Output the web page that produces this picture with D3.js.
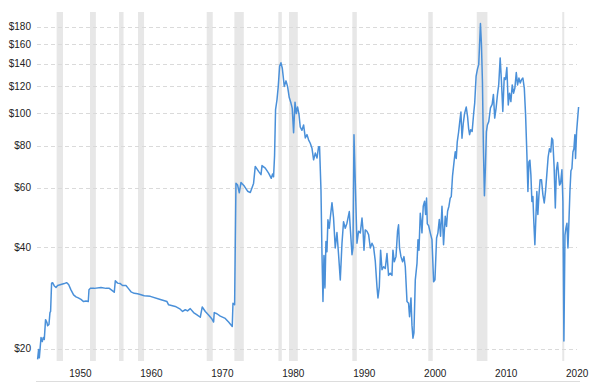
<!DOCTYPE html>
<html>
<head>
<meta charset="utf-8">
<script src="https://cdnjs.cloudflare.com/ajax/libs/d3/7.8.5/d3.min.js"></script>
<style>
  body { margin: 0; background: #fff; }
  svg { display: block; font-family: "DejaVu Sans", Verdana, sans-serif; }
  .band { fill: #e7e7e7; }
  .gridLine { stroke: #dadada; stroke-width: 1; stroke-dasharray: 4,3; }
  .baseLine { stroke: #dddddd; stroke-width: 1; }
  .priceLine { fill: none; stroke: #4a90d9; stroke-width: 1.5; stroke-linejoin: round; }
  .axis text { font-size: 10px; fill: #222; }
  .axis path, .axis line { display: none; }
</style>
</head>
<body>
<script>
var w = 602;
var h = 383;

// monthly-ish samples (decimal year, price in $)
var years = [
  1946.17, 1946.31, 1946.41, 1946.65, 1946.83, 1946.97, 1947.11, 1947.29, 1947.49, 1947.58,
  1947.77, 1947.91, 1948.0, 1948.14, 1948.28, 1948.52, 1948.76, 1948.99, 1949.46, 1949.93,
  1950.25, 1950.54, 1950.87, 1951.24, 1951.58, 1951.9, 1952.28, 1952.65, 1952.99, 1953.31,
  1953.41, 1953.59, 1954.16, 1955.1, 1955.81, 1956.27, 1956.65, 1956.97, 1957.12, 1957.44,
  1957.82, 1958.14, 1958.62, 1958.95, 1959.33, 1959.79, 1960.26, 1960.74, 1961.2, 1962.05,
  1963.46, 1964.4, 1964.63, 1965.57, 1966.27, 1966.6, 1966.98, 1967.3, 1967.68, 1968.15,
  1968.63, 1969.09, 1969.37, 1969.8, 1970.26, 1970.74, 1970.97, 1971.06, 1971.44, 1971.91,
  1972.61, 1973.08, 1973.6, 1973.7, 1973.93, 1974.12, 1974.35, 1974.59, 1974.83, 1975.29,
  1975.76, 1976.14, 1976.6, 1976.84, 1977.31, 1977.65, 1977.79, 1978.25, 1978.72, 1979.1,
  1979.28, 1979.42, 1979.56, 1979.7, 1979.9, 1980.08, 1980.27, 1980.46, 1980.65, 1980.93,
  1981.17, 1981.39, 1981.63, 1981.87, 1982.05, 1982.24, 1982.44, 1982.62, 1982.8, 1983.0,
  1983.18, 1983.42, 1983.65, 1983.89, 1984.13, 1984.35, 1984.59, 1984.83, 1985.06, 1985.3,
  1985.54, 1985.76, 1985.9, 1986.1, 1986.24, 1986.38, 1986.52, 1986.66, 1986.8, 1986.94,
  1987.08, 1987.27, 1987.41, 1987.65, 1987.87, 1988.11, 1988.35, 1988.58, 1988.82, 1989.06,
  1989.28, 1989.52, 1989.76, 1990.09, 1990.23, 1990.47, 1990.61, 1990.75, 1990.93, 1991.17,
  1991.4, 1991.64, 1991.88, 1992.02, 1992.16, 1992.34, 1992.58, 1992.81, 1993.05, 1993.29,
  1993.51, 1993.75, 1993.99, 1994.13, 1994.32, 1994.5, 1994.7, 1994.92, 1995.16, 1995.4,
  1995.62, 1995.86, 1996.1, 1996.24, 1996.43, 1996.67, 1996.89, 1997.03, 1997.17, 1997.37,
  1997.6, 1997.79, 1997.98, 1998.22, 1998.44, 1998.58, 1998.78, 1998.92, 1999.06, 1999.2,
  1999.39, 1999.63, 1999.77, 1999.91, 2000.09, 2000.23, 2000.33, 2000.51, 2000.7, 2000.84,
  2000.98, 2001.08, 2001.26, 2001.5, 2001.74, 2001.97, 2002.16, 2002.39, 2002.58, 2002.77,
  2002.95, 2003.15, 2003.37, 2003.61, 2003.79, 2003.94, 2004.13, 2004.31, 2004.46, 2004.64,
  2004.88, 2005.02, 2005.16, 2005.3, 2005.49, 2005.68, 2005.82, 2005.97, 2006.15, 2006.33,
  2006.57, 2006.76, 2006.9, 2007.04, 2007.2, 2007.4, 2007.62, 2007.76, 2007.96, 2008.14,
  2008.33, 2008.43, 2008.57, 2008.71, 2008.85, 2008.99, 2009.13, 2009.27, 2009.41, 2009.55,
  2009.74, 2009.98, 2010.22, 2010.4, 2010.58, 2010.78, 2010.97, 2011.15, 2011.35, 2011.53,
  2011.72, 2011.92, 2012.11, 2012.29, 2012.49, 2012.67, 2012.86, 2013.05, 2013.24, 2013.42,
  2013.62, 2013.8, 2013.99, 2014.18, 2014.37, 2014.55, 2014.75, 2014.93, 2015.12, 2015.26,
  2015.4, 2015.54, 2015.68, 2015.82, 2015.96, 2016.1, 2016.24, 2016.38, 2016.52, 2016.66,
  2016.8, 2016.98, 2017.17, 2017.37, 2017.56, 2017.74, 2017.92, 2018.11, 2018.3, 2018.48,
  2018.62, 2018.76, 2018.95, 2019.12, 2019.27, 2019.44, 2019.58, 2019.72, 2019.86, 2020.05,
  2020.19, 2020.33, 2020.48, 2020.62, 2020.76, 2020.9, 2021.04, 2021.18, 2021.32, 2021.46,
  2021.6, 2021.74, 2021.88, 2021.97, 2022.12, 2022.26, 2022.4
];

var prices = [
  18.6, 19.9, 18.8, 21.6, 21.0, 21.6, 21.3, 24.4, 23.9, 23.4,
  23.6, 25.6, 25.8, 31.3, 31.4, 30.7, 30.4, 30.8, 31.0, 31.2,
  31.4, 31.0, 29.9, 28.9, 28.5, 28.3, 28.0, 27.6, 27.7, 27.6,
  29.9, 30.2, 30.2, 30.4, 30.2, 30.2, 29.8, 29.4, 31.8, 31.3,
  31.2, 30.8, 30.8, 30.2, 29.5, 29.2, 29.1, 28.9, 28.7, 28.6,
  28.0, 27.6, 27.0, 26.7, 26.2, 25.8, 26.1, 25.9, 26.3, 25.6,
  25.2, 24.8, 26.6, 25.8, 25.2, 24.5, 24.0, 25.6, 25.4, 25.0,
  24.6, 24.0, 23.3, 27.3, 27.0, 61.9, 61.1, 58.0, 62.2, 60.7,
  58.6, 58.1, 61.8, 69.4, 67.1, 65.6, 69.8, 68.6, 66.3, 64.0,
  65.9, 64.7, 74.7, 102.2, 109.3, 119.8, 137.5, 140.7, 135.6, 119.8,
  124.4, 119.8, 111.0, 106.9, 103.2, 87.3, 107.6, 99.5, 104.1, 99.0,
  90.8, 88.8, 92.1, 84.3, 86.2, 83.2, 81.3, 78.6, 72.6, 76.0,
  73.5, 79.3, 79.3, 59.2, 38.3, 27.6, 37.8, 30.3, 41.6, 38.8,
  48.2, 45.5, 48.9, 54.2, 48.9, 39.8, 44.2, 38.0, 32.0, 41.1,
  47.6, 45.5, 47.1, 51.0, 45.5, 38.0, 39.8, 86.1, 62.6, 41.1,
  44.6, 44.1, 48.8, 45.0, 39.2, 45.0, 44.6, 43.6, 39.8, 41.1,
  40.1, 36.4, 30.5, 28.3, 30.5, 39.2, 34.3, 35.0, 34.6, 38.3,
  33.0, 33.5, 33.0, 39.2, 36.2, 37.5, 44.6, 46.6, 39.8, 37.5,
  36.2, 37.5, 35.0, 27.6, 27.3, 24.9, 28.3, 23.5, 21.5, 22.3,
  32.0, 35.8, 42.1, 39.2, 50.4, 47.2, 44.1, 52.9, 54.7, 50.0,
  55.9, 46.9, 46.4, 44.1, 42.1, 31.6, 32.0, 42.6, 44.1, 48.3,
  43.1, 52.9, 40.7, 49.4, 46.1, 51.1, 52.9, 55.9, 56.5, 65.2,
  72.6, 76.7, 73.3, 81.9, 87.6, 95.2, 100.6, 84.1, 93.0, 99.5,
  104.1, 97.3, 90.0, 86.2, 89.1, 88.1, 99.9, 106.9, 128.5, 134.5,
  139.2, 156.3, 183.9, 160.0, 124.1, 78.4, 56.8, 68.8, 87.9, 92.1,
  94.2, 103.5, 105.9, 113.4, 96.5, 103.5, 113.4, 121.5, 145.5, 124.1,
  101.0, 127.0, 125.6, 136.3, 105.6, 114.4, 108.0, 121.0, 114.4, 118.4,
  131.6, 121.0, 126.8, 122.6, 125.6, 126.8, 118.4, 98.8, 74.8, 58.5,
  71.6, 72.4, 65.5, 54.6, 56.5, 47.1, 40.7, 48.8, 58.5, 50.0,
  56.5, 63.4, 63.4, 57.2, 54.1, 58.5, 65.5, 74.0, 78.3, 76.6,
  84.2, 83.2, 69.4, 52.3, 67.4, 71.3, 65.5, 61.1, 61.8, 67.8,
  54.6, 21.1, 43.4, 45.6, 47.1, 39.8, 47.7, 58.5, 67.4, 68.4,
  76.6, 78.3, 86.2, 73.3, 87.9, 95.8, 104.1
];

// recession periods (start, end)
var recessionStarts = [1948.85, 1953.55, 1957.65, 1960.32, 1970.0, 1973.9, 1980.1, 1981.6, 1990.52, 2001.22, 2008.05, 2020.1];
var recessionEnds   = [1949.75, 1954.38, 1958.28, 1961.17, 1970.85, 1975.22, 1980.58, 1982.83, 1991.15, 2001.85, 2009.55, 2020.36];

var yTicks = [20, 40, 60, 80, 100, 120, 140, 160, 180];
var xTicks = [1950, 1960, 1970, 1980, 1990, 2000, 2010, 2020];

var dataset = years.map(function(d, i) {
  return {year: d, price: prices[i]};
});

var bands = recessionStarts.map(function(d, i) {
  return {start: d, end: recessionEnds[i]};
});

var xScale = d3.scaleLinear()
               .domain([1946, 2022.5])
               .range([36.4, 579.3]);

var yScale = d3.scaleLog()
               .domain([18.4, 199])
               .range([361, 12]);

var svg = d3.select("body")
            .append("svg")
            .attr("width", w)
            .attr("height", h);

// Recession bands
svg.selectAll("rect.band")
   .data(bands)
   .enter()
   .append("rect")
   .attr("class", "band")
   .attr("x", function(d) { return xScale(d.start); })
   .attr("width", function(d) { return Math.max(2, xScale(d.end) - xScale(d.start)); })
   .attr("y", 12)
   .attr("height", 361 - 12);

// Price grid lines
svg.selectAll("line.gridLine")
   .data(yTicks)
   .enter()
   .append("line")
   .attr("class", "gridLine")
   .attr("x1", 37)
   .attr("x2", 577)
   .attr("y1", function(d) { return Math.round(yScale(d)) + 0.5; })
   .attr("y2", function(d) { return Math.round(yScale(d)) + 0.5; });

// bottom border line
svg.append("line")
   .attr("class", "baseLine")
   .attr("x1", 36)
   .attr("x2", 580)
   .attr("y1", 381.5)
   .attr("y2", 381.5);

var line = d3.line()
             .x(function(d) { return xScale(d.year); })
             .y(function(d) { return yScale(d.price); });

svg.append("path")
   .datum(dataset)
   .attr("class", "priceLine")
   .attr("d", line);

var yAxis = d3.axisLeft()
              .scale(yScale)
              .tickValues(yTicks)
              .tickSize(0)
              .tickPadding(5.5)
              .tickFormat(function(d) { return "$" + d; });

svg.append("g")
   .attr("class", "axis yAxis")
   .attr("transform", "translate(36.5,0)")
   .call(yAxis);

var xAxis = d3.axisBottom()
              .scale(xScale)
              .tickValues(xTicks)
              .tickSize(0)
              .tickPadding(8.6)
              .tickFormat(d3.format("d"));

svg.append("g")
   .attr("class", "axis xAxis")
   .attr("transform", "translate(0,361)")
   .call(xAxis);

svg.selectAll(".xAxis text")
   .attr("text-anchor", "start")
   .attr("x", 4);
</script>
</body>
</html>
